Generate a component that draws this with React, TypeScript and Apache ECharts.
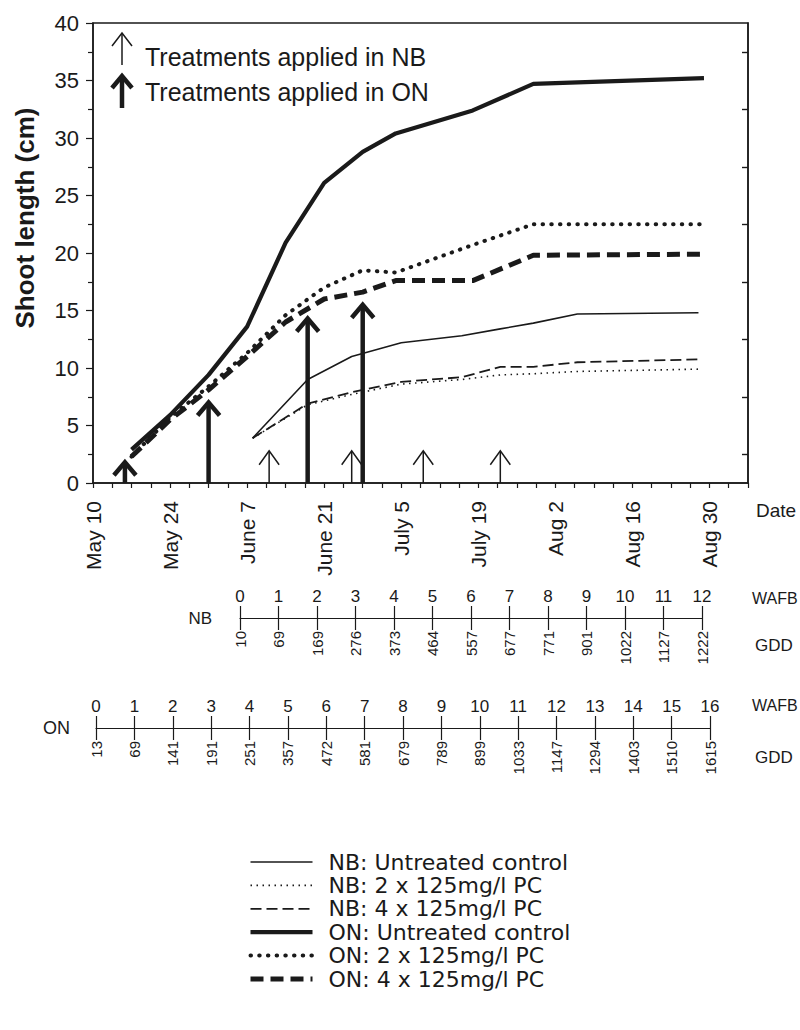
import React, { useEffect, useRef } from 'react';
import * as echarts from 'echarts';

// ---- data ----
const dateLabels = ['May 10', 'May 24', 'June 7', 'June 21', 'July 5', 'July 19', 'Aug 2', 'Aug 16', 'Aug 30'];
const yTicks = [0, 5, 10, 15, 20, 25, 30, 35, 40];

// days after May 10
const onDays = [7, 14, 21, 28, 35, 42, 49, 55, 69, 80, 111];
const onControl = [2.9, 5.9, 9.4, 13.6, 20.9, 26.1, 28.8, 30.4, 32.4, 34.7, 35.2];
const on2x = [2.3, 5.7, 8.4, 11.3, 14.6, 17.0, 18.5, 18.3, 20.7, 22.5, 22.5];
const on4x = [2.3, 5.5, 8.1, 11.0, 14.0, 16.0, 16.6, 17.6, 17.6, 19.8, 19.9];

const nbDays = [29, 39, 47, 56, 67, 74, 80, 88, 110];
const nbControl = [3.9, 9.0, 11.0, 12.2, 12.8, 13.4, 13.9, 14.7, 14.8];
const nb2x = [3.9, 6.8, 7.7, 8.6, 9.0, 9.4, 9.5, 9.7, 9.9];
const nb4x = [3.9, 6.9, 7.9, 8.8, 9.2, 10.1, 10.1, 10.5, 10.75];

const nbArrowDays = [32, 47, 60, 74];
const nbArrowTops = [2.8, 2.8, 2.8, 2.8];
const onArrowDays = [5.8, 21, 39, 49];
const onArrowTops = [1.8, 7.0, 14.3, 15.5];

const nbWafb = [0, 1, 2, 3, 4, 5, 6, 7, 8, 9, 10, 11, 12];
const nbGdd = [10, 69, 169, 276, 373, 464, 557, 677, 771, 901, 1022, 1127, 1222];
const onWafb = [0, 1, 2, 3, 4, 5, 6, 7, 8, 9, 10, 11, 12, 13, 14, 15, 16];
const onGdd = [13, 69, 141, 191, 251, 357, 472, 581, 679, 789, 899, 1033, 1147, 1294, 1403, 1510, 1615];

const seriesNames = [
  'NB: Untreated control',
  'NB: 2 x 125mg/l PC',
  'NB: 4 x 125mg/l PC',
  'ON: Untreated control',
  'ON: 2 x 125mg/l PC',
  'ON: 4 x 125mg/l PC',
];

const INK = '#1a1a1a';
const FONT = '"Liberation Sans", Arial, Helvetica, sans-serif';
const WIDE_FONT = '"DejaVu Sans", "Liberation Sans", Arial, sans-serif';

const pairs = (xs: number[], ys: number[]) => xs.map((x, i) => [x, ys[i]]);

function arrowSeries(days: number[], tops: number[], lw: number, hw: number, hh: number) {
  return {
    type: 'custom',
    xAxisIndex: 0,
    yAxisIndex: 0,
    silent: true,
    encode: { x: 0, y: 1 },
    data: pairs(days, tops),
    renderItem: (params: any, api: any) => {
      const base = api.coord([api.value(0), 0]);
      const tip = api.coord([api.value(0), api.value(1)]);
      return {
        type: 'group',
        children: [
          {
            type: 'line',
            shape: { x1: base[0], y1: base[1], x2: tip[0], y2: tip[1] + lw / 2 },
            style: { stroke: INK, lineWidth: lw },
          },
          {
            type: 'polyline',
            shape: {
              points: [
                [tip[0] - hw, tip[1] + hh],
                [tip[0], tip[1]],
                [tip[0] + hw, tip[1] + hh],
              ],
            },
            style: { stroke: INK, lineWidth: lw, fill: 'none', lineJoin: 'miter' },
          },
        ],
      };
    },
  };
}

function timelineAxes(grid: number, wafb: number[], gdd: number[]) {
  const max = wafb.length - 1;
  return [
    {
      type: 'value',
      gridIndex: grid,
      min: 0,
      max,
      interval: 1,
      position: 'bottom',
      axisLine: { show: true, lineStyle: { color: INK, width: 1.2 } },
      axisTick: { show: true, inside: true, length: 12, lineStyle: { color: INK, width: 1.2 } },
      splitLine: { show: false },
      axisLabel: {
        inside: true,
        margin: 13,
        color: INK,
        fontFamily: FONT,
        fontSize: 17,
        formatter: (v: number) => String(wafb[Math.round(v)] ?? ''),
      },
    },
    {
      type: 'value',
      gridIndex: grid,
      min: 0,
      max,
      interval: 1,
      position: 'bottom',
      axisLine: { show: false },
      axisTick: { show: true, inside: false, length: 12, lineStyle: { color: INK, width: 1.2 } },
      splitLine: { show: false },
      axisLabel: {
        rotate: 90,
        margin: 13,
        color: INK,
        fontFamily: FONT,
        fontSize: 15,
        formatter: (v: number) => String(gdd[Math.round(v)] ?? ''),
      },
    },
  ];
}

function txt(x: number, y: number, text: string, size: number, align = 'left', extra: any = {}) {
  return {
    type: 'text',
    x,
    y,
    style: {
      text,
      fill: INK,
      font: `${extra.weight || 'normal'} ${size}px ${FONT}`,
      textAlign: align,
      textVerticalAlign: 'middle',
    },
    rotation: extra.rotation || 0,
  };
}

function legendArrow(x: number, yTop: number, yBottom: number, lw: number, hw: number, hh: number) {
  return [
    { type: 'line', shape: { x1: x, y1: yBottom, x2: x, y2: yTop + lw / 2 }, style: { stroke: INK, lineWidth: lw } },
    {
      type: 'polyline',
      shape: { points: [[x - hw, yTop + hh], [x, yTop], [x + hw, yTop + hh]] },
      style: { stroke: INK, lineWidth: lw, fill: 'none' },
    },
  ];
}

export default function App() {
  const ref = useRef<HTMLDivElement>(null);

  useEffect(() => {
    document.body.style.margin = '0';
    if (!ref.current) return;
    const chart = echarts.init(ref.current, undefined, { renderer: 'svg' });

    const lineBase = { type: 'line', xAxisIndex: 0, yAxisIndex: 0, showSymbol: false, symbol: 'circle', symbolSize: 0, silent: true, z: 3 };

    const option: any = {
      animation: false,
      backgroundColor: '#ffffff',
      textStyle: { fontFamily: FONT, color: INK },
      grid: [
        { left: 93, top: 23, width: 655, height: 460, show: true, borderColor: INK, borderWidth: 1.5, backgroundColor: 'transparent' },
        { left: 240, top: 617, width: 462, height: 1 },
        { left: 96, top: 727, width: 614, height: 1 },
      ],
      xAxis: [
        {
          type: 'value',
          gridIndex: 0,
          min: 0,
          max: 119,
          interval: 3.5,
          axisLine: { show: true, lineStyle: { color: INK, width: 1.5 } },
          axisTick: { show: true, length: 5, lineStyle: { color: INK, width: 1.2 } },
          splitLine: { show: false },
          axisLabel: {
            rotate: 90,
            margin: 18,
            color: INK,
            fontFamily: FONT,
            fontSize: 21,
            formatter: (v: number) => {
              const k = v / 14;
              if (Math.abs(k - Math.round(k)) < 1e-6) return dateLabels[Math.round(k)] ?? '';
              return '';
            },
          },
        },
        ...timelineAxes(1, nbWafb, nbGdd),
        ...timelineAxes(2, onWafb, onGdd),
      ],
      yAxis: [
        {
          type: 'value',
          gridIndex: 0,
          min: yTicks[0],
          max: yTicks[yTicks.length - 1],
          interval: yTicks[1] - yTicks[0],
          axisLine: { show: true, lineStyle: { color: INK, width: 1.5 } },
          axisTick: { show: true, length: 7, lineStyle: { color: INK, width: 1.2 } },
          minorTick: { show: true, splitNumber: 2, length: 5, lineStyle: { color: INK, width: 1.2 } },
          splitLine: { show: false },
          axisLabel: { margin: 14, color: INK, fontFamily: FONT, fontSize: 22 },
        },
        {
          type: 'value',
          gridIndex: 0,
          position: 'right',
          min: yTicks[0],
          max: yTicks[yTicks.length - 1],
          interval: yTicks[1] - yTicks[0],
          axisLine: { show: true, lineStyle: { color: INK, width: 1.5 } },
          axisTick: { show: false, inside: true },
          minorTick: { show: true, splitNumber: 2, length: 6, lineStyle: { color: INK, width: 1.4 } },
          splitLine: { show: false },
          axisLabel: { show: false },
        },
        { type: 'value', gridIndex: 1, show: false, min: 0, max: 1 },
        { type: 'value', gridIndex: 2, show: false, min: 0, max: 1 },
      ],
      legend: {
        orient: 'vertical',
        left: 243,
        top: 846,
        itemWidth: 62,
        itemHeight: 14,
        itemGap: 1.4,
        data: seriesNames,
        selectedMode: false,
        textStyle: { fontFamily: WIDE_FONT, fontSize: 22, color: INK, padding: [0, 0, 0, 11] },
        itemStyle: { opacity: 0 },
        lineStyle: { width: 'inherit' },
      },
      series: [
        { ...lineBase, name: seriesNames[0], data: pairs(nbDays, nbControl), lineStyle: { color: INK, width: 1.6 } },
        { ...lineBase, name: seriesNames[1], data: pairs(nbDays, nb2x), lineStyle: { color: INK, width: 1.6, type: [1.5, 4.5] } },
        { ...lineBase, name: seriesNames[2], data: pairs(nbDays, nb4x), lineStyle: { color: INK, width: 1.8, type: [11, 5] } },
        { ...lineBase, name: seriesNames[3], data: pairs(onDays, onControl), lineStyle: { color: INK, width: 4.2 } },
        { ...lineBase, name: seriesNames[4], data: pairs(onDays, on2x), lineStyle: { color: INK, width: 4, type: [0.5, 8.2], cap: 'round' } },
        { ...lineBase, name: seriesNames[5], data: pairs(onDays, on4x), lineStyle: { color: INK, width: 5, type: [13, 7] } },
        arrowSeries(nbArrowDays, nbArrowTops, 1.5, 10, 14),
        arrowSeries(onArrowDays, onArrowTops, 4.5, 11, 13),
      ],
      graphic: [
        txt(25, 218, 'Shoot length (cm)', 26, 'center', { weight: 'bold', rotation: Math.PI / 2 }),
        txt(756, 510, 'Date', 19),
        txt(212, 618, 'NB', 17, 'right'),
        txt(70, 728, 'ON', 18, 'right'),
        txt(752, 598, 'WAFB', 16),
        txt(755, 645, 'GDD', 17),
        txt(752, 705, 'WAFB', 16),
        txt(755, 757, 'GDD', 17),
        ...legendArrow(122, 33, 65, 1.5, 10, 13),
        ...legendArrow(122, 76, 108, 4.5, 10, 12),
        txt(145, 57, 'Treatments applied in NB', 25),
        txt(145, 92, 'Treatments applied in ON', 25),
      ],
    };

    chart.setOption(option);
    return () => {
      chart.dispose();
    };
  }, []);

  return <div ref={ref} style={{ width: 800, height: 1030 }} />;
}
